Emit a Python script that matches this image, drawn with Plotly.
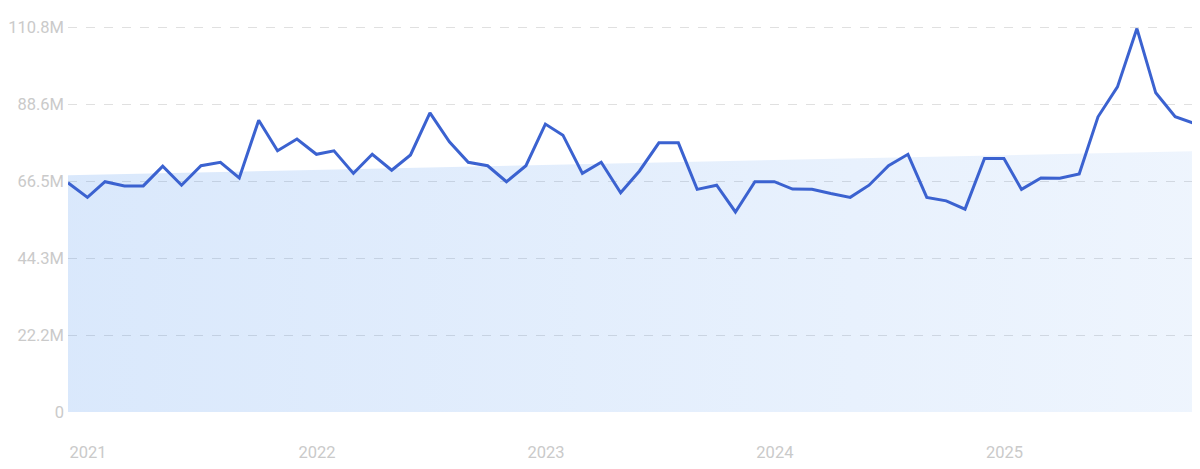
import pandas as pd
import plotly.graph_objects as go

# monthly values, Jan 2021 .. Dec 2025 (millions)
months = pd.date_range("2021-01-01", periods=60, freq="MS")
values_m = [
    66.0, 61.8, 66.3, 65.1, 65.1, 70.8, 65.3, 70.9, 71.9, 67.4, 84.0, 75.2,
    78.6, 74.2, 75.2, 68.7, 74.2, 69.6, 74.0, 86.1, 77.8, 71.9, 70.9, 66.3,
    70.9, 82.9, 79.7, 68.7, 71.9, 63.1, 69.4, 77.5, 77.5, 64.1, 65.3, 57.6,
    66.3, 66.3, 64.2, 64.1, 62.9, 61.8, 65.3, 70.9, 74.2, 61.8, 60.8, 58.4,
    73.0, 73.0, 64.1, 67.4, 67.3, 68.5, 85.0, 93.6, 110.4, 91.9, 85.0, 83.1,
]
trend_m = [68.2, 75.1]  # trend start / end

y_ticks_m = [0, 22.16, 44.32, 66.48, 88.64, 110.8]
y_labels = ["0", "22.2M", "44.3M", "66.5M", "88.6M", "110.8M"]
year_ticks = ["2021-01-01", "2022-01-01", "2023-01-01", "2024-01-01", "2025-01-01"]
year_labels = ["2021", "2022", "2023", "2024", "2025"]

values = [v * 1e6 for v in values_m]
trend = [v * 1e6 for v in trend_m]

fig = go.Figure()

# translucent so the dashed grid shows through
fig.add_trace(go.Scatter(
    x=[months[0], months[-1]],
    y=trend,
    mode="lines",
    line=dict(width=0),
    fill="tozeroy",
    fillgradient=dict(
        type="horizontal",
        colorscale=[[0, "rgba(58,135,238,0.19)"], [1, "rgba(58,135,238,0.085)"]],
    ),
    hoverinfo="skip",
    showlegend=False,
))

fig.add_trace(go.Scatter(
    x=months,
    y=values,
    mode="lines",
    line=dict(color="#3b62d0", width=3),
    showlegend=False,
))

# page body adds an 8px offset, margins compensate
fig.update_layout(
    width=1200,
    height=469,
    margin=dict(l=60, r=14, t=15, b=65),
    plot_bgcolor="white",
    paper_bgcolor="white",
    font=dict(family="Roboto", size=16.5, color="#cacaca"),
    xaxis=dict(
        range=[months[0], months[-1]],
        tickvals=year_ticks,
        ticktext=year_labels,
        showgrid=False,
        zeroline=False,
        showline=False,
        ticks="",
        ticklabelshift=20,
        ticklabelstandoff=28,
        automargin=False,
    ),
    yaxis=dict(
        range=[0, 112e6],
        tickvals=[v * 1e6 for v in y_ticks_m],
        ticktext=y_labels,
        showgrid=True,
        gridcolor="#e0e0e0",
        griddash="dash",
        zeroline=False,
        showline=False,
        ticks="",
        ticklabelstandoff=3,
        automargin=False,
    ),
)

fig.write_html("out.html")
